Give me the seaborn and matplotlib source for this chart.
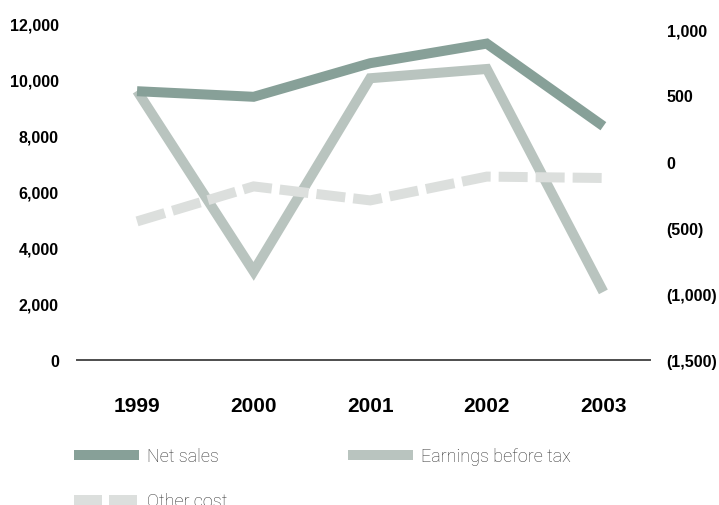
import matplotlib
matplotlib.use("Agg")
import matplotlib.pyplot as plt
import matplotlib.transforms as mtransforms
from matplotlib.lines import Line2D
import pandas as pd
import seaborn as sns

# Yearly figures
years = ["1999", "2000", "2001", "2002", "2003"]
net_sales = [9600, 9400, 10600, 11300, 8350]
other_cost = [4950, 6200, 5700, 6550, 6500]
earnings_before_tax = [535, -830, 630, 700, -985]

# Axis ticks
left_ticks = [0, 2000, 4000, 6000, 8000, 10000, 12000]
right_ticks = [-1500, -1000, -500, 0, 500, 1000]

NET_COLOR = "#87a098"
EBT_COLOR = "#b9c4bf"
OTHER_COLOR = "#dcdfdd"
LW = 7.2
OTHER_DASH = (0, (2.9, 0.8))

sns.set_theme(style="white")
plt.rcParams["font.family"] = ["Liberation Sans", "DejaVu Sans"]

df = pd.DataFrame({
    "pos": range(len(years)),
    "Net sales": net_sales,
    "Other cost": other_cost,
    "Earnings before tax": earnings_before_tax,
})

fig = plt.figure(figsize=(7.19, 5.06), dpi=100)
ax = fig.add_axes([77 / 719, 145 / 506, 573 / 719, 336 / 506])
ax2 = ax.twinx()

# earnings on the secondary axis, drawn beneath the other two lines
sns.lineplot(data=df, x="pos", y="Earnings before tax", ax=ax2, color=EBT_COLOR,
             lw=LW, solid_capstyle="butt", solid_joinstyle="miter")
sns.lineplot(data=df, x="pos", y="Other cost", ax=ax, color=OTHER_COLOR,
             lw=LW, dash_capstyle="butt", dash_joinstyle="miter")
ax.lines[-1].set_linestyle(OTHER_DASH)
sns.lineplot(data=df, x="pos", y="Net sales", ax=ax, color=NET_COLOR,
             lw=LW, solid_capstyle="butt", solid_joinstyle="miter")

ax.set_zorder(ax2.get_zorder() + 1)
ax.patch.set_visible(False)

ax.set_xlim(-0.515, 4.40)
ax.set_ylim(0, 12000)
ax2.set_ylim(-1490, 1040)

ax.set_xlabel("")
ax.set_ylabel("")
ax2.set_ylabel("")

ax.set_xticks(range(len(years)))
ax.set_xticklabels(years, fontsize=15, fontweight="bold", color="black")
shift = mtransforms.ScaledTranslation(-7 / 100, 0, fig.dpi_scale_trans)
for lab in ax.get_xticklabels():
    lab.set_transform(lab.get_transform() + shift)

ax.set_yticks(left_ticks)
ax.set_yticklabels([f"{v:,}" for v in left_ticks], fontsize=11.5,
                   fontweight="bold", color="black")
ax2.set_yticks(right_ticks)
ax2.set_yticklabels([f"({abs(v):,})" if v < 0 else f"{v:,}" for v in right_ticks],
                    fontsize=11.5, fontweight="bold", color="black")

ax.tick_params(axis="x", length=0, pad=26)
ax.tick_params(axis="y", length=0, pad=13)
ax2.tick_params(axis="y", length=0, pad=12)

for s in ["left", "right", "top"]:
    ax.spines[s].set_visible(False)
for s in ax2.spines.values():
    s.set_visible(False)
ax.spines["bottom"].set_color("#4d4d4d")
ax.spines["bottom"].set_linewidth(1.4)

# Legend in two columns
h_net = Line2D([], [], color=NET_COLOR, lw=LW, solid_capstyle="butt")
h_other = Line2D([], [], color=OTHER_COLOR, lw=LW, linestyle=(0, (2.8, 0.7)),
                 dash_capstyle="butt")
h_ebt = Line2D([], [], color=EBT_COLOR, lw=LW, solid_capstyle="butt")

leg_font = dict(family=["Roboto", "DejaVu Sans"], weight="light", size=13)
common = dict(frameon=False, loc="upper left", borderaxespad=0, borderpad=0,
              handlelength=3.6, handletextpad=0.45, labelspacing=1.5,
              prop=leg_font, labelcolor="#333333")
fig.legend([h_net, h_other], ["Net sales", "Other cost"],
           bbox_to_anchor=(74 / 719, (506 - 448) / 506), **common)
fig.legend([h_ebt], ["Earnings before tax"],
           bbox_to_anchor=(348 / 719, (506 - 448) / 506), **common)

fig.savefig("out.png", dpi=100)
